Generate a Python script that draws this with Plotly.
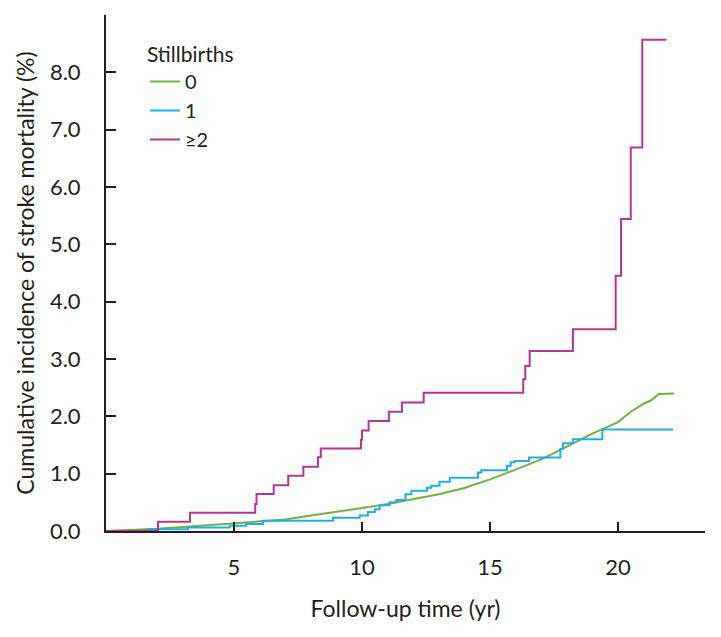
import plotly.graph_objects as go

# Stillbirths = 0 (smooth-looking cumulative incidence)
t0 = [0, 1, 2, 3, 4, 5, 6, 7, 8, 9, 10, 11, 12, 13, 14, 15, 16, 17, 18, 19, 19.5, 20, 20.5, 21, 21.3, 21.6, 22.2]
v0 = [0, 0.015, 0.04, 0.07, 0.10, 0.13, 0.165, 0.20, 0.27, 0.33, 0.40, 0.47, 0.56, 0.64, 0.75, 0.90, 1.07, 1.25, 1.47, 1.70, 1.80, 1.90, 2.08, 2.22, 2.28, 2.39, 2.40]

# Stillbirths = 1 (step function)
t1 = [0, 1.64, 3.2, 4.83, 5.48, 6.13, 8.87, 9.91, 10.23, 10.5, 10.69, 11.08, 11.34, 11.7, 11.93,
      12.54, 12.71, 13.03, 13.43, 14.53, 14.66, 15.66, 15.81, 15.96, 16.52, 17.75, 17.85, 18.24, 19.39, 22.15]
v1 = [0, 0.03, 0.06, 0.09, 0.12, 0.18, 0.23, 0.27, 0.33, 0.38, 0.45, 0.50, 0.54, 0.64, 0.70,
      0.755, 0.79, 0.86, 0.93, 1.02, 1.06, 1.14, 1.20, 1.22, 1.28, 1.43, 1.53, 1.60, 1.77, 1.77]

# Stillbirths >= 2 (step function)
t2 = [0, 2.03, 3.28, 5.83, 5.88, 6.55, 7.12, 7.71, 8.28, 8.39, 9.96, 10.0, 10.26, 11.05, 11.56,
      12.41, 16.3, 16.38, 16.55, 18.24, 19.91, 20.12, 20.5, 20.95, 21.89]
v2 = [0, 0.16, 0.32, 0.47, 0.645, 0.80, 0.965, 1.12, 1.285, 1.44, 1.59, 1.755, 1.92, 2.08, 2.24,
      2.41, 2.645, 2.88, 3.14, 3.52, 4.45, 5.44, 6.69, 8.57, 8.57]

series_names = ["0", "1", "≥2"]
colors = ["#72b044", "#22aee2", "#b3398c"]

x_ticks = [5, 10, 15, 20]
y_ticks = [0, 1, 2, 3, 4, 5, 6, 7, 8]
y_tick_labels = ["0.0", "1.0", "2.0", "3.0", "4.0", "5.0", "6.0", "7.0", "8.0"]

FONT = "Lato"
AX = "#231f20"

fig = go.Figure()
fig.add_trace(go.Scatter(x=t0, y=v0, mode="lines", name=series_names[0],
                         line=dict(color=colors[0], width=2)))
fig.add_trace(go.Scatter(x=t1, y=v1, mode="lines", name=series_names[1],
                         line=dict(color=colors[1], width=2, shape="hv")))
fig.add_trace(go.Scatter(x=t2, y=v2, mode="lines", name=series_names[2],
                         line=dict(color=colors[2], width=2, shape="hv")))

fig.update_layout(
    width=721, height=637,
    margin=dict(l=106, r=16, t=15, b=106),
    paper_bgcolor="white", plot_bgcolor="white",
    font=dict(family=FONT, size=21, color=AX),
    showlegend=True,
    legend=dict(
        title=dict(text="Stillbirths", font=dict(family=FONT, size=21, color=AX)),
        font=dict(family=FONT, size=20, color=AX),
        x=0.065, y=0.962, xanchor="left", yanchor="top",
        bgcolor="rgba(0,0,0,0)", borderwidth=0,
    ),
    xaxis=dict(
        range=[0, 23.4], tickvals=x_ticks, ticktext=[str(v) for v in x_ticks],
        ticks="inside", ticklen=9, tickwidth=1.5, tickcolor=AX,
        showline=True, linecolor=AX, linewidth=2,
        showgrid=False, zeroline=False,
        ticklabelstandoff=16,
        title=dict(text="Follow-up time (yr)", font=dict(family=FONT, size=23, color=AX), standoff=21),
        tickfont=dict(family=FONT, size=22, color=AX),
    ),
    yaxis=dict(
        range=[0, 9.0], tickvals=y_ticks, ticktext=y_tick_labels,
        ticks="inside", ticklen=10, tickwidth=1.5, tickcolor=AX,
        showline=True, linecolor=AX, linewidth=2,
        showgrid=False, zeroline=False,
        ticklabelstandoff=19,
        title=dict(text="Cumulative incidence of stroke mortality (%)", font=dict(family=FONT, size=23, color=AX), standoff=9),
        tickfont=dict(family=FONT, size=22, color=AX),
    ),
)

fig.write_html("out.html")
